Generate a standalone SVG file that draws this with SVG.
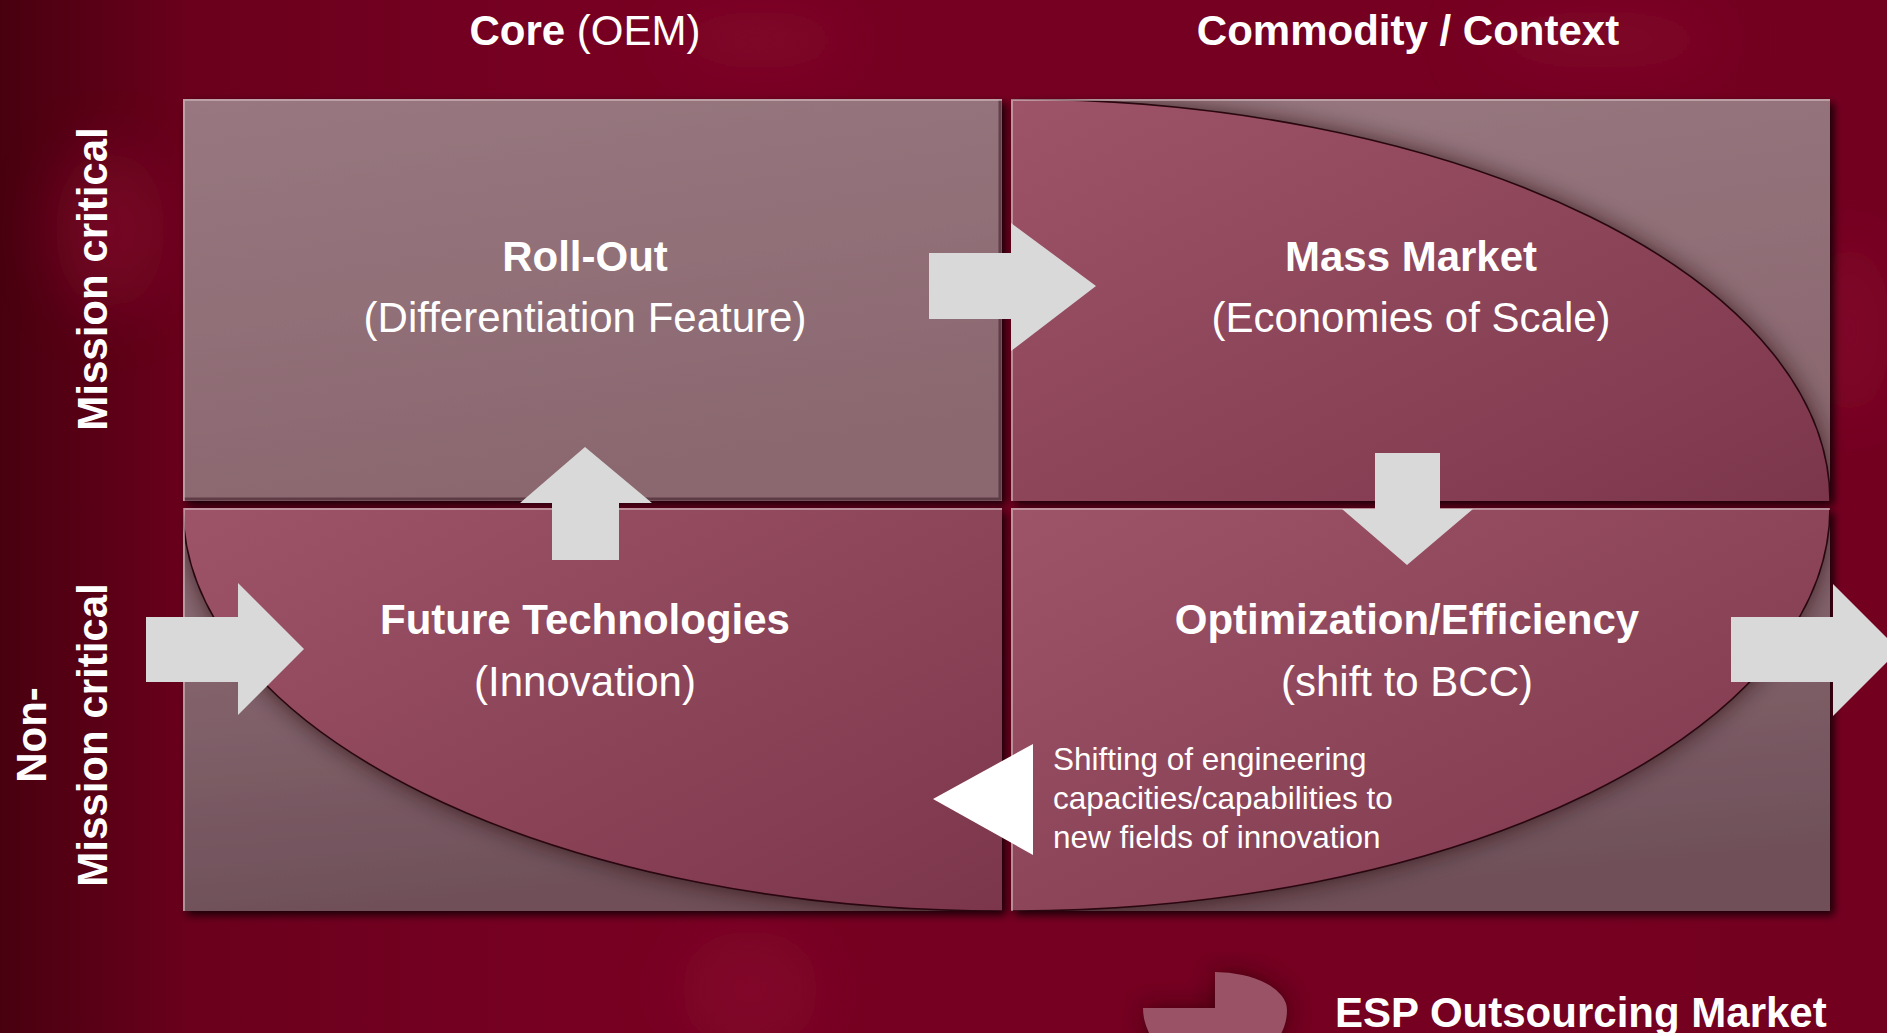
<svg xmlns="http://www.w3.org/2000/svg" width="1887" height="1033" viewBox="0 0 1887 1033">
  <defs>
    <style>
      .lbl { font-family: "Liberation Sans", Arial, sans-serif; fill: #ffffff; }
      .b { font-weight: bold; }
      .h { font-size: 42px; }
      .note { font-size: 31.5px; }
      .arrow { fill: #d9d9d9; }
      .edge { fill: none; stroke: #d6bcc2; stroke-opacity: 0.6; stroke-width: 2; }
      .inner { fill: none; stroke: #3a1822; stroke-opacity: 0.55; stroke-width: 3; }
      .rim { fill: none; stroke: #2a0710; stroke-width: 1.6; }
    </style>
    <linearGradient id="bg" x1="0" y1="0" x2="1" y2="0">
      <stop offset="0" stop-color="#48000f"/>
      <stop offset="0.1" stop-color="#6a001c"/>
      <stop offset="0.3" stop-color="#770022"/>
      <stop offset="1" stop-color="#740020"/>
    </linearGradient>
    <linearGradient id="quadTop" x1="0" y1="0" x2="0.3" y2="1">
      <stop offset="0" stop-color="#987780"/>
      <stop offset="1" stop-color="#8b6870"/>
    </linearGradient>
    <linearGradient id="quadBot" x1="0" y1="0" x2="0.2" y2="1">
      <stop offset="0" stop-color="#92707a"/>
      <stop offset="1" stop-color="#6f5059"/>
    </linearGradient>
    <linearGradient id="ell" x1="0" y1="0" x2="1" y2="1">
      <stop offset="0" stop-color="#9e5468"/>
      <stop offset="1" stop-color="#7c364b"/>
    </linearGradient>
    <filter id="soft" x="-20%" y="-20%" width="140%" height="140%">
      <feGaussianBlur stdDeviation="12"/>
    </filter>
    <filter id="haze" x="-50%" y="-50%" width="200%" height="200%">
      <feGaussianBlur stdDeviation="30"/>
    </filter>
    <filter id="drop" x="-5%" y="-5%" width="110%" height="110%">
      <feDropShadow dx="4" dy="4" stdDeviation="4" flood-color="#000000" flood-opacity="0.8"/>
    </filter>
    <clipPath id="cTR"><rect x="1011" y="99" width="819" height="402"/></clipPath>
    <clipPath id="cBL"><rect x="183" y="508" width="819" height="403"/></clipPath>
    <clipPath id="cBR"><rect x="1011" y="508" width="819" height="403"/></clipPath>
  </defs>

  <!-- backdrop -->
  <rect width="1887" height="1033" fill="url(#bg)"/>
  <g filter="url(#haze)" fill="#8c0a32" opacity="0.5">
    <ellipse cx="110" cy="230" rx="55" ry="80"/>
    <ellipse cx="760" cy="40" rx="90" ry="30"/>
    <ellipse cx="1600" cy="40" rx="120" ry="30"/>
    <ellipse cx="750" cy="990" rx="70" ry="60"/>
    <ellipse cx="1850" cy="330" rx="40" ry="90"/>
  </g>

  <!-- column and row headings -->
  <g id="axis-labels">
    <text class="lbl h" x="585" y="45" text-anchor="middle"><tspan class="b">Core</tspan> (OEM)</text>
    <text class="lbl h b" x="1408" y="45" text-anchor="middle">Commodity / Context</text>
    <text class="lbl h b" transform="translate(107,279) rotate(-90)" text-anchor="middle">Mission critical</text>
    <text class="lbl h b" transform="translate(46,735) rotate(-90)" text-anchor="middle">Non-</text>
    <text class="lbl h b" transform="translate(107,735) rotate(-90)" text-anchor="middle">Mission critical</text>
  </g>

  <!-- quadrant tiles with their shadows -->
  <g filter="url(#drop)">
    <rect x="183" y="99" width="819" height="402" fill="url(#quadTop)"/>
    <rect x="1011" y="99" width="819" height="402" fill="url(#quadTop)"/>
    <rect x="183" y="508" width="819" height="403" fill="url(#quadBot)"/>
    <rect x="1011" y="508" width="819" height="403" fill="url(#quadBot)"/>
  </g>

  <g id="roll-out">
    <path class="inner" d="M1000,100 L1000,499 L184,499"/>
    <path class="edge" d="M184,501 L184,100 L1002,100"/>
    <text class="lbl h b" x="585" y="271" text-anchor="middle">Roll-Out</text>
    <text class="lbl h" x="585" y="332" text-anchor="middle">(Differentiation Feature)</text>
  </g>

  <g id="mass-market">
    <g clip-path="url(#cTR)">
      <path d="M1011,501 L1011,99 A819,402 0 0 1 1830,501 Z" fill="#1a0208" opacity="0.7" filter="url(#soft)"/>
      <path d="M1011,501 L1011,99 A819,402 0 0 1 1830,501 Z" fill="url(#ell)"/>
      <path class="rim" d="M1011,99 A819,402 0 0 1 1830,501"/>
    </g>
    <path class="edge" d="M1012,501 L1012,100 L1830,100"/>
    <text class="lbl h b" x="1411" y="271" text-anchor="middle">Mass Market</text>
    <text class="lbl h" x="1411" y="332" text-anchor="middle">(Economies of Scale)</text>
  </g>

  <g id="future-technologies">
    <g clip-path="url(#cBL)">
      <path d="M1002,508 L1002,911 A819,403 0 0 1 183,508 Z" fill="#1a0208" opacity="0.7" filter="url(#soft)"/>
      <path d="M1002,508 L1002,911 A819,403 0 0 1 183,508 Z" fill="url(#ell)"/>
      <path class="rim" d="M1002,911 A819,403 0 0 1 183,508"/>
    </g>
    <path class="edge" d="M184,911 L184,509 L1002,509"/>
    <text class="lbl h b" x="585" y="634" text-anchor="middle">Future Technologies</text>
    <text class="lbl h" x="585" y="696" text-anchor="middle">(Innovation)</text>
  </g>

  <g id="optimization-efficiency">
    <g clip-path="url(#cBR)">
      <path d="M1011,508 L1830,508 A819,403 0 0 1 1011,911 Z" fill="#1a0208" opacity="0.7" filter="url(#soft)"/>
      <path d="M1011,508 L1830,508 A819,403 0 0 1 1011,911 Z" fill="url(#ell)"/>
      <path class="rim" d="M1830,508 A819,403 0 0 1 1011,911"/>
    </g>
    <path class="edge" d="M1012,911 L1012,509 L1830,509"/>
    <text class="lbl h b" x="1407" y="634" text-anchor="middle">Optimization/Efficiency</text>
    <text class="lbl h" x="1407" y="696" text-anchor="middle">(shift to BCC)</text>
  </g>

  <g id="capacity-shift-note">
    <path d="M1033,744 L1033,855 L933,799 Z" fill="#ffffff"/>
    <text class="lbl note" x="1053" y="770">Shifting of engineering</text>
    <text class="lbl note" x="1053" y="809">capacities/capabilities to</text>
    <text class="lbl note" x="1053" y="848">new fields of innovation</text>
  </g>

  <!-- flow arrows between the quadrants -->
  <g id="connectors">
    <path class="arrow" d="M146,617 L238,617 L238,583 L304,649 L238,715 L238,682 L146,682 Z"/>
    <path class="arrow" d="M552,560 L619,560 L619,503 L652,503 L585,447 L520,503 L552,503 Z"/>
    <path class="arrow" d="M929,253 L1011,253 L1011,223 L1096,286 L1011,351 L1011,319 L929,319 Z"/>
    <path class="arrow" d="M1375,453 L1440,453 L1440,509 L1473,509 L1407,565 L1342,509 L1375,509 Z"/>
    <path class="arrow" d="M1731,617 L1833,617 L1833,584 L1899,650 L1833,716 L1833,682 L1731,682 Z"/>
  </g>

  <g id="esp-logo">
    <path d="M1215,1008 L1215,972 A72,38 0 0 1 1287,1010 A72,60 0 0 1 1215,1070 A72,62 0 0 1 1143,1008 Z" fill="#1a0208" opacity="0.6" filter="url(#soft)"/>
    <path d="M1215,1008 L1215,972 A72,38 0 0 1 1287,1010 A72,60 0 0 1 1215,1070 A72,62 0 0 1 1143,1008 Z" fill="#9a5266"/>
    <text class="lbl h b" x="1335" y="1027">ESP Outsourcing Market</text>
  </g>
</svg>
